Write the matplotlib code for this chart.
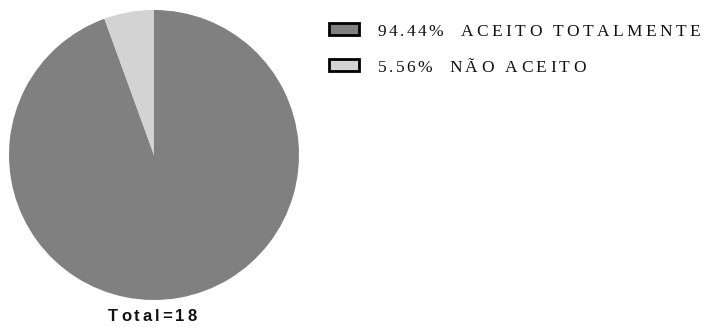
import matplotlib
matplotlib.use("Agg")
import matplotlib.pyplot as plt
from matplotlib.patches import Rectangle

# data
labels = ["ACEITO TOTALMENTE", "NÃO ACEITO"]
counts = [17, 1]
colors = ["#808080", "#d3d3d3"]

W, H = 709, 327
fig = plt.figure(figsize=(W / 100, H / 100), dpi=100)
renderer = fig.canvas.get_renderer()


def tracked_text(x, y, s, track, **kw):
    """Draw s from pixel x, baseline pixel y (top-left coords), letter-spaced."""
    for ch in s:
        t = fig.text(x / W, 1 - y / H, ch, va="baseline", ha="left", **kw)
        if ch == " ":
            w = t.get_fontsize() * 0.25 * 100 / 72
        else:
            w = t.get_window_extent(renderer).width
        x += w + track
    return x


# pie
ax = fig.add_axes([9 / W, 1 - 300 / H, 290 / W, 290 / H])
ax.pie(counts, colors=colors, startangle=90, counterclock=False,
       wedgeprops=dict(linewidth=0))
ax.set_xlim(-1, 1)
ax.set_ylim(-1, 1)
ax.set_aspect("equal")

total = sum(counts)
tracked_text(108, 321, f"Total={total}", 3.0, fontsize=12, fontweight="bold",
             family="Liberation Sans", color="#111111")

# legend
rows_y = [36, 72]
for lab, c, col, ry in zip(labels, counts, colors, rows_y):
    fig.patches.append(Rectangle((329 / W, 1 - (ry - 1) / H), 30 / W, 12 / H,
                                 transform=fig.transFigure, facecolor=col,
                                 edgecolor="black", linewidth=2))
    pct = f"{100 * c / total:.2f}%"
    x = tracked_text(378, ry, pct, 2.3, fontsize=12.5, family="Liberation Serif",
                     color="#111111")
    tracked_text(x + 15, ry, lab, 3.4, fontsize=12.5, family="Liberation Serif",
                 color="#111111")

fig.savefig("out.png", dpi=100)
